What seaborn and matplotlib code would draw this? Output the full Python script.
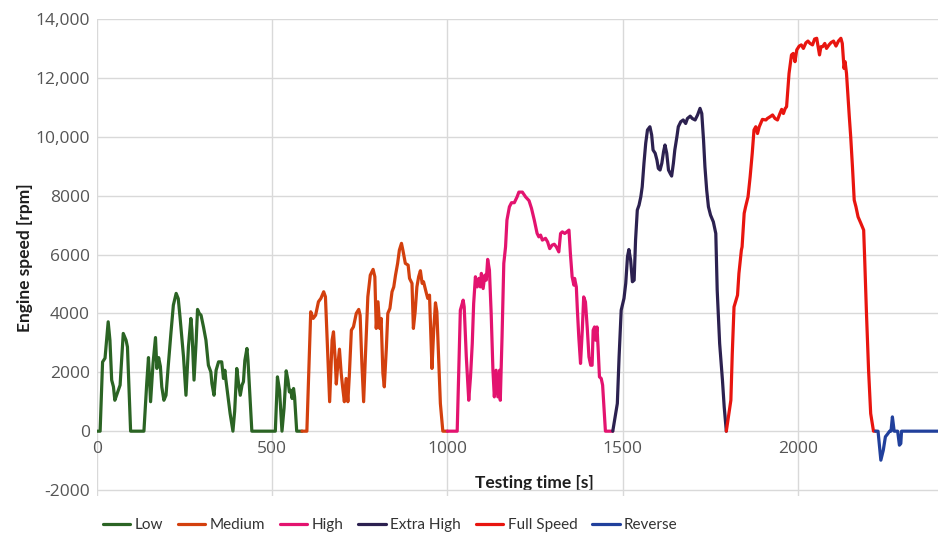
import matplotlib
matplotlib.use("Agg")
import matplotlib.pyplot as plt
import pandas as pd
import seaborn as sns

# Engine speed [rpm] over testing time [s] for each test phase
low = [(0, 0), (9, 0), (16, 2350), (23, 2480), (32, 3715), (37, 3090), (42, 1735), (47, 1510),
       (51, 1050), (56, 1220), (66, 1565), (75, 3320), (83, 3090), (87, 2860), (96, 0), (134, 0),
       (142, 1620), (147, 2500), (153, 1000), (160, 2300), (167, 3180), (171, 2130), (176, 2500),
       (181, 2200), (185, 1505), (191, 1050), (197, 1220), (204, 2300), (211, 3320), (218, 4280),
       (226, 4680), (232, 4500), (237, 3880), (247, 2525), (254, 1220), (261, 2860), (268, 3830),
       (271, 3430), (277, 1735), (283, 3040), (287, 4135), (292, 4000), (297, 3940), (304, 3540),
       (311, 3090), (318, 2240), (325, 2010), (328, 1620), (334, 1220), (340, 2070), (347, 2355),
       (356, 2355), (361, 1790), (365, 2070), (368, 1735), (380, 600), (388, 0), (393, 680),
       (399, 2130), (404, 1620), (409, 1220), (414, 1565), (418, 1680), (422, 2400), (428, 2810),
       (431, 2400), (442, 0), (509, 0), (515, 1845), (521, 1390), (528, 0), (534, 790), (540, 2050),
       (545, 1735), (549, 1335), (553, 1390), (557, 1110), (561, 1450), (564, 1160), (570, 0), (585, 0)]

medium = [(585, 0), (599, 0), (610, 4055), (617, 3830), (624, 3940), (632, 4395), (639, 4510),
          (647, 4735), (652, 4565), (657, 3090), (664, 1000), (671, 3090), (675, 3375), (680, 2410),
          (683, 1600), (686, 2070), (692, 2785), (697, 1960), (701, 1505), (706, 1000), (711, 1790),
          (716, 1000), (720, 1850), (726, 3430), (732, 3545), (740, 4000), (747, 4135), (751, 3940),
          (756, 2300), (761, 1000), (766, 2525), (773, 4565), (780, 5300), (788, 5495), (793, 5245),
          (797, 3490), (802, 4395), (807, 3490), (811, 3830), (816, 1960), (820, 1505), (826, 2860),
          (830, 4000), (836, 4170), (842, 4735), (847, 4900), (852, 5300), (858, 5700), (863, 6150),
          (869, 6380), (873, 6150), (880, 5700), (888, 5640), (892, 5190), (899, 5020), (903, 3490),
          (908, 4055), (913, 4900), (918, 5245), (923, 5450), (928, 5020), (932, 5075), (939, 4735),
          (944, 4510), (949, 4620), (956, 2130), (961, 3430), (966, 4360), (970, 4055), (980, 940),
          (987, 0), (1000, 0)]

high = [(1000, 0), (1028, 0), (1037, 4110), (1045, 4450), (1048, 4220), (1054, 2525), (1061, 1050),
        (1066, 1845), (1071, 2975), (1075, 4335), (1080, 5245), (1085, 4900), (1090, 5190),
        (1094, 4900), (1097, 5360), (1102, 4845), (1107, 5300), (1111, 5130), (1115, 5835),
        (1120, 5470), (1125, 3990), (1130, 2070), (1134, 1165), (1139, 2070), (1144, 1165),
        (1149, 2070), (1151, 1050), (1156, 3200), (1161, 5700), (1166, 6260), (1170, 7170),
        (1177, 7620), (1183, 7760), (1191, 7760), (1199, 7960), (1204, 8120), (1214, 8120),
        (1223, 7960), (1233, 7830), (1240, 7570), (1248, 7170), (1256, 6720), (1261, 6600),
        (1266, 6660), (1271, 6490), (1280, 6550), (1286, 6430), (1292, 6200), (1299, 6320),
        (1305, 6350), (1311, 6260), (1318, 6090), (1323, 6715), (1328, 6770), (1335, 6715),
        (1341, 6770), (1347, 6830), (1351, 6040), (1356, 5245), (1361, 4960), (1363, 5190),
        (1368, 4900), (1371, 4110), (1375, 3200), (1380, 2300), (1385, 3430), (1389, 4560),
        (1394, 4390), (1399, 3540), (1404, 2525), (1409, 2240), (1413, 2240), (1416, 3430),
        (1420, 3540), (1423, 3090), (1427, 3540), (1430, 2860), (1434, 1845), (1439, 1790),
        (1443, 1565), (1451, 0), (1472, 0)]

extra_high = [(1472, 0), (1485, 940), (1490, 2520), (1496, 4110), (1504, 4510), (1509, 5020),
              (1514, 5930), (1518, 6170), (1523, 5810), (1528, 5075), (1533, 5130), (1537, 6490),
              (1542, 7510), (1547, 7680), (1552, 7960), (1556, 8300), (1561, 9100), (1566, 9780),
              (1571, 10230), (1578, 10340), (1583, 10060), (1587, 9550), (1593, 9440), (1598, 9210),
              (1602, 8925), (1607, 8870), (1612, 9100), (1617, 9500), (1621, 9720), (1626, 9440),
              (1631, 8870), (1636, 8750), (1640, 8665), (1645, 9100), (1649, 9550), (1655, 10000),
              (1659, 10340), (1666, 10510), (1673, 10570), (1680, 10450), (1685, 10620),
              (1693, 10700), (1699, 10620), (1707, 10570), (1714, 10740), (1721, 10965),
              (1726, 10790), (1731, 9890), (1735, 8980), (1740, 8190), (1745, 7620), (1751, 7340),
              (1759, 7110), (1766, 6715), (1770, 4790), (1777, 2975), (1785, 1730), (1790, 820),
              (1796, 0)]

full_speed = [(1796, 0), (1809, 1050), (1813, 2630), (1818, 4220), (1828, 4620), (1832, 5360),
              (1839, 6150), (1841, 6260), (1847, 7400), (1851, 7620), (1858, 7960), (1864, 8640),
              (1870, 9440), (1875, 10230), (1880, 10340), (1885, 10110), (1890, 10340),
              (1894, 10450), (1899, 10590), (1909, 10570), (1913, 10620), (1921, 10680),
              (1928, 10740), (1935, 10620), (1942, 10570), (1949, 10790), (1954, 10930),
              (1959, 10790), (1964, 10960), (1968, 11020), (1975, 12150), (1982, 12780),
              (1987, 12830), (1992, 12550), (1997, 12950), (2004, 13080), (2010, 13120),
              (2016, 13000), (2023, 13190), (2029, 13250), (2035, 13170), (2042, 13120),
              (2048, 13320), (2054, 13345), (2058, 13060), (2062, 12780), (2066, 13060),
              (2071, 13060), (2077, 13170), (2082, 13000), (2089, 13120), (2095, 13200),
              (2102, 13250), (2109, 13080), (2116, 13250), (2123, 13345), (2127, 13170),
              (2132, 12320), (2135, 12550), (2139, 12150), (2147, 10680), (2151, 10000),
              (2156, 8980), (2161, 7850), (2166, 7620), (2172, 7280), (2180, 7060), (2188, 6830),
              (2191, 5810), (2196, 4000), (2202, 2070), (2208, 600), (2216, 0), (2222, 0)]

reverse = [(2222, 0), (2229, 0), (2237, -985), (2244, -645), (2250, -190), (2256, -100), (2262, 0),
           (2266, 0), (2270, 485), (2275, 0), (2285, 0), (2290, -475), (2294, -420), (2296, 0),
           (2400, 0)]

phases = ["Low", "Medium", "High", "Extra High", "Full Speed", "Reverse"]
phase_data = [low, medium, high, extra_high, full_speed, reverse]
colors = ["#2b6424", "#d3400e", "#e3136f", "#2c2150", "#e8150f", "#21409c"]

y_ticks = [-2000, 0, 2000, 4000, 6000, 8000, 10000, 12000, 14000]
y_tick_labels = ["-2000", "0", "2000", "4000", "6000", "8000", "10,000", "12,000", "14,000"]
x_ticks = [0, 500, 1000, 1500, 2000]
x_tick_labels = ["0", "500", "1000", "1500", "2000"]

rows = []
for name, pts in zip(phases, phase_data):
    for i, (t, rpm) in enumerate(pts):
        rows.append({"phase": name, "order": i, "time": t, "rpm": rpm})
df = pd.DataFrame(rows)

sns.set_theme(style="white")
plt.rcParams["font.family"] = ["Open Sans", "DejaVu Sans"]

fig = plt.figure(figsize=(9.46, 5.35), dpi=100)
ax = fig.add_axes([0.1025, 0.073, 0.889, 0.8915])

palette = dict(zip(phases, colors))
sns.lineplot(data=df, x="time", y="rpm", hue="phase", hue_order=phases, palette=palette,
             estimator=None, sort=False, units="phase", linewidth=2.3, legend=False, ax=ax)

ax.set_xlim(0, 2400)
ax.set_ylim(-2200, 14000)
ax.set_yticks(y_ticks)
ax.set_yticklabels(y_tick_labels)
ax.set_xticks(x_ticks)
ax.set_xticklabels(x_tick_labels)

ax.grid(True, color="#d9d9d9", linewidth=1.0)
ax.set_axisbelow(True)
for side in ["top", "right", "left"]:
    ax.spines[side].set_visible(False)
ax.spines["bottom"].set_position(("data", 0))
ax.spines["bottom"].set_visible(False)

ax.tick_params(axis="both", length=0, colors="#555555", labelsize=12.5)
ax.tick_params(axis="x", pad=7)
ax.tick_params(axis="y", pad=5)

label_font = ["Lato", "DejaVu Sans"]
ax.set_ylabel("Engine speed [rpm]", fontsize=12.5, fontweight="bold", family=label_font,
              color="#1e1e1e")
ax.yaxis.set_label_coords(-0.076, 0.5)
ax.set_xlabel("Testing time [s]", fontsize=12.5, fontweight="bold", family=label_font,
              color="#1e1e1e")
ax.xaxis.set_label_coords(0.52, 0.044)

handles = [plt.Line2D([], [], color=c, linewidth=2.3) for c in colors]
fig.legend(handles, phases, loc="center left", bbox_to_anchor=(0.094, 0.018), ncol=6,
           frameon=False, handlelength=1.8, handletextpad=0.3, columnspacing=0.95,
           prop={"family": label_font, "size": 11}, labelcolor="#333333")

fig.savefig("out.png", dpi=100)
